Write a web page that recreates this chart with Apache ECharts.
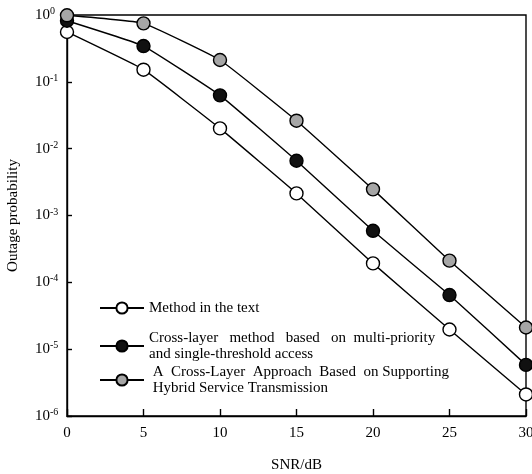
<!DOCTYPE html>
<html>
<head>
<meta charset="utf-8">
<script src="https://cdn.jsdelivr.net/npm/echarts@6/dist/echarts.min.js"></script>
<style>html,body{margin:0;padding:0;background:#fff;}#c{width:532px;height:474px;}</style>
</head>
<body>
<div id="c"></div>
<script>
const snr = [0, 5, 10, 15, 20, 25, 30];
const methodInText = [0.557, 0.152, 0.0201, 0.00214, 1.92e-4, 1.97e-5, 2.1e-6];
const multiPriority = [0.82, 0.343, 0.0628, 0.00659, 5.9e-4, 6.45e-5, 5.82e-6];
const hybridService = [0.99, 0.75, 0.212, 0.0262, 0.00246, 2.11e-4, 2.11e-5];
const seriesNames = [
  'Method in the text',
  'Cross-layer   method   based   on  multi-priority\nand single-threshold access',
  ' A  Cross-Layer  Approach  Based  on Supporting\n Hybrid Service Transmission'
];
const fillColors = ['#ffffff', '#111111', '#a6a6a6'];
const xName = 'SNR/dB';
const yName = 'Outage probability';

const FONT = "'Liberation Serif', 'Times New Roman', serif";
const chart = echarts.init(document.getElementById('c'), null, {renderer: 'canvas'});

function mk(vals, i) {
  return {
    name: seriesNames[i],
    type: 'line',
    smooth: 0.1,
    data: snr.map((x, k) => [x, vals[k]]),
    symbol: 'circle',
    symbolSize: 13,
    lineStyle: {color: '#000', width: 1.4},
    itemStyle: {color: fillColors[i], borderColor: '#000', borderWidth: 1.4},
    z: 3 + i
  };
}

const legendTops = [300, 330, 364];
const legends = seriesNames.map((n, i) => ({
  data: [n],
  left: 99,
  top: legendTops[i],
  orient: 'vertical',
  padding: 0,
  itemWidth: 44,
  itemHeight: 14,
  selectedMode: false,
  textStyle: {fontFamily: FONT, fontSize: 15, color: '#000', lineHeight: 16}
}));

chart.setOption({
  animation: false,
  backgroundColor: '#fff',
  grid: {left: 67, right: 6, top: 15, bottom: 58, outerBoundsMode: 'none', containLabel: false, show: true, borderColor: '#000', borderWidth: 1.4, backgroundColor: 'transparent'},
  legend: legends,
  xAxis: {
    type: 'value', min: 0, max: 30, interval: 5,
    name: xName, nameLocation: 'middle', nameGap: 42,
    nameTextStyle: {fontFamily: FONT, fontSize: 15, color: '#000'},
    axisLine: {lineStyle: {color: '#000', width: 1.4}},
    axisTick: {inside: true, length: 7, lineStyle: {color: '#000', width: 1.4}},
    axisLabel: {fontFamily: FONT, fontSize: 15, color: '#000', margin: 10},
    splitLine: {show: false}
  },
  yAxis: {
    type: 'log', logBase: 10, min: 1e-6, max: 1,
    name: yName, nameLocation: 'middle', nameGap: 46,
    nameTextStyle: {fontFamily: FONT, fontSize: 15, color: '#000'},
    axisLine: {lineStyle: {color: '#000', width: 1.4}},
    axisTick: {inside: true, length: 5, lineStyle: {color: '#000', width: 1.4}},
    minorTick: {show: false},
    axisLabel: {
      margin: 32,
      align: 'left',
      formatter: function (v) {
        const e = Math.round(Math.log10(v));
        return '{b|10}{s|' + e + '}';
      },
      rich: {
        b: {fontFamily: FONT, fontSize: 15, color: '#000'},
        s: {fontFamily: FONT, fontSize: 10, color: '#000', padding: [0, 0, 7, 0]}
      }
    },
    splitLine: {show: false}
  },
  series: [mk(methodInText, 0), mk(multiPriority, 1), mk(hybridService, 2)]
});
</script>
</body>
</html>
